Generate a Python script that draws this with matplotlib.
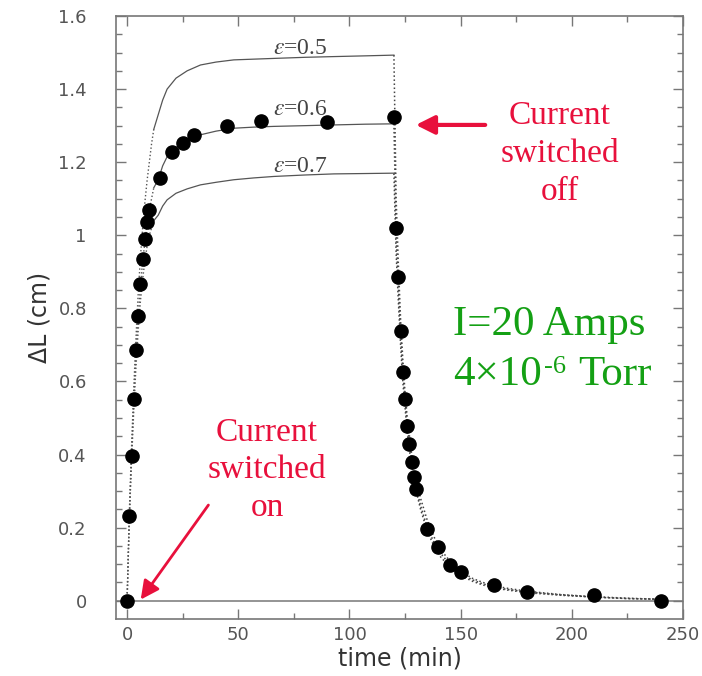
import matplotlib.pyplot as plt

# measured points (time in min, elongation in cm)
t_data = [0, 1, 2, 3, 4, 5, 6, 7, 8, 9, 10, 15, 20, 25, 30, 45, 60, 90, 120,
          121, 122, 123, 124, 125, 126, 127, 128, 129, 130,
          135, 140, 145, 150, 165, 180, 210, 240]
dl_data = [0, 0.233, 0.397, 0.553, 0.685, 0.78, 0.867, 0.935, 0.99, 1.037, 1.069,
           1.156, 1.229, 1.252, 1.275, 1.299, 1.314, 1.311, 1.323,
           1.02, 0.885, 0.737, 0.627, 0.553, 0.477, 0.43, 0.381, 0.339, 0.306,
           0.197, 0.148, 0.098, 0.08, 0.042, 0.025, 0.0145, 0.0]

# model curves, current on
t_rise = [0, 1, 2, 3, 4, 5, 6, 7, 8, 9, 10, 11, 12, 14, 16, 18, 22, 27, 33, 40,
          48, 57, 66, 80, 93, 107, 120]
rise_05 = [0, 0.24, 0.42, 0.58, 0.72, 0.84, 0.94, 1.02, 1.09, 1.15, 1.20, 1.25, 1.29,
           1.33, 1.37, 1.40, 1.43, 1.45, 1.466, 1.474, 1.48, 1.482, 1.484, 1.487,
           1.489, 1.491, 1.493]
rise_06 = [0, 0.23, 0.40, 0.55, 0.68, 0.78, 0.86, 0.93, 0.98, 1.03, 1.07, 1.10, 1.13,
           1.152, 1.19, 1.215, 1.24, 1.26, 1.275, 1.285, 1.293, 1.296, 1.298, 1.30,
           1.302, 1.304, 1.305]
rise_07 = [0, 0.22, 0.38, 0.52, 0.64, 0.74, 0.82, 0.88, 0.93, 0.97, 1.0, 1.02, 1.04,
           1.055, 1.08, 1.097, 1.115, 1.127, 1.138, 1.145, 1.152, 1.157, 1.161,
           1.165, 1.168, 1.169, 1.17]

# model curves, current off
t_fall = [120, 121, 122, 123, 124, 125, 126, 127, 128, 130, 132, 135, 138, 141, 145,
          150, 155, 160, 170, 180, 195, 210, 225, 240]
fall_05 = [1.493, 1.1, 0.92, 0.77, 0.66, 0.57, 0.50, 0.45, 0.40, 0.33, 0.28, 0.22,
           0.175, 0.14, 0.11, 0.082, 0.062, 0.05, 0.035, 0.026, 0.017, 0.011, 0.007, 0.004]
fall_06 = [1.305, 1.0, 0.86, 0.73, 0.63, 0.55, 0.48, 0.43, 0.38, 0.31, 0.26, 0.20,
           0.16, 0.13, 0.10, 0.075, 0.058, 0.046, 0.032, 0.024, 0.016, 0.01, 0.006, 0.004]
fall_07 = [1.169, 0.95, 0.82, 0.70, 0.60, 0.53, 0.46, 0.41, 0.37, 0.30, 0.25, 0.19,
           0.15, 0.12, 0.093, 0.07, 0.054, 0.043, 0.03, 0.022, 0.015, 0.01, 0.006, 0.004]

eps_labels = [r'$\varepsilon$=0.5', r'$\varepsilon$=0.6', r'$\varepsilon$=0.7']
eps_label_y = [1.497, 1.330, 1.172]

plt.rcParams['mathtext.fontset'] = 'stix'
red = '#e8103c'
green = '#14a014'
grey = '#555555'

fig = plt.figure(figsize=(7.02, 6.76), dpi=100)
ax = fig.add_axes([0.1652, 0.0843, 0.8077, 0.892])

n = 13  # first points of the rise are dotted
for rise, fall in [(rise_05, fall_05), (rise_06, fall_06), (rise_07, fall_07)]:
    ax.plot(t_rise[:n], rise[:n], ls=':', color=grey, lw=1)
    ax.plot(t_rise[n - 1:], rise[n - 1:], ls='-', color=grey, lw=0.9)
    ax.plot(t_fall, fall, ls=':', color='#444444', lw=1.1)

ax.axhline(0, color='#777777', lw=1.1)
ax.plot(t_data, dl_data, 'o', color='black', ms=9.5, zorder=5)

for lab, y in zip(eps_labels, eps_label_y):
    ax.text(78, y, lab, ha='center', va='baseline', fontsize=17,
            family='Liberation Serif', color='#444444')

ax.set_xlim(-5, 250)
ax.set_ylim(-0.05, 1.6)
ax.set_xticks([0, 50, 100, 150, 200, 250])
ax.set_xticks(range(25, 250, 50), minor=True)
ax.set_yticks([0, 0.2, 0.4, 0.6, 0.8, 1.0, 1.2, 1.4, 1.6])
ax.set_yticklabels(['0', '0.2', '0.4', '0.6', '0.8', '1', '1.2', '1.4', '1.6'])
ax.set_yticks([i * 0.05 for i in range(33)], minor=True)
ax.tick_params(which='both', direction='in', top=True, right=True, color='#777777')
ax.tick_params(which='major', length=7, width=1)
ax.tick_params(which='minor', length=4, width=1)
ax.tick_params(axis='x', pad=5, labelsize=13, labelcolor=grey)
ax.tick_params(axis='y', pad=21, labelsize=13, labelcolor=grey)
for s in ax.spines.values():
    s.set_color('#777777')
    s.set_linewidth(1.2)

ax.set_xlabel('time (min)', fontsize=17, color='#333333', labelpad=2)
ax.set_ylabel('ΔL (cm)', fontsize=17, color='#333333', labelpad=5)

# annotations
ax.text(194.7, 1.223, 'Current\nswitched\noff', ha='center', va='center',
        fontsize=24, family='Liberation Serif', color=red, linespacing=1.3)
ax.annotate('', xy=(128.6, 1.302), xytext=(162.3, 1.302),
            arrowprops=dict(arrowstyle='-|>', color=red, lw=3, mutation_scale=28))
ax.text(62.9, 0.358, 'Current\nswitched\non', ha='center', va='center',
        fontsize=24, family='Liberation Serif', color=red, linespacing=1.3)
ax.annotate('', xy=(5.4, -0.003), xytext=(37.3, 0.268),
            arrowprops=dict(arrowstyle='-|>', color=red, lw=2, mutation_scale=28))

ax.text(146.6, 0.7276, 'I=20 Amps', ha='left', va='baseline', fontsize=31,
        family='Liberation Serif', color=green)
t1 = ax.text(146.6, 0.591, '4×10', ha='left', va='baseline', fontsize=31,
             family='Liberation Serif', color=green)
t2 = ax.annotate('-6', xy=(1, 0.624), xycoords=(t1, 'data'), xytext=(2, 0),
                 textcoords='offset pixels', ha='left', va='baseline', fontsize=19,
                 family='Liberation Serif', color=green)
ax.annotate('Torr', xy=(1, 0.591), xycoords=(t2, 'data'), xytext=(12, 0),
            textcoords='offset pixels', ha='left', va='baseline', fontsize=31,
            family='Liberation Serif', color=green)

plt.savefig('out.png', dpi=100)
